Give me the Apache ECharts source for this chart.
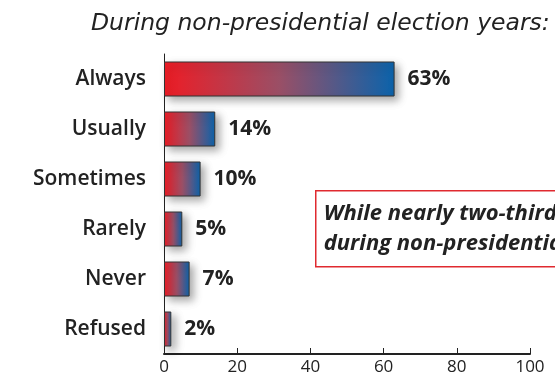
<!DOCTYPE html>
<html>
<head>
<meta charset="utf-8">
<script src="https://cdn.jsdelivr.net/npm/echarts@6/dist/echarts.min.js"></script>
<style>
html,body{margin:0;padding:0;background:#fff;}
#chart{width:555px;height:376px;}
</style>
</head>
<body>
<div id="chart"></div>
<script>
var categories = ['Always', 'Usually', 'Sometimes', 'Rarely', 'Never', 'Refused'];
var values = [63, 14, 10, 5, 7, 2];
var xTicks = [0, 20, 40, 60, 80, 100];
var titleText = 'During non-presidential election years:';
var noteLines = ['While nearly two-thirds of respondents said they always vote', 'during non-presidential election years, 14% said usually'];

var chart = echarts.init(document.getElementById('chart'), null, {renderer: 'canvas'});
var option = {
  backgroundColor: '#ffffff',
  animation: false,
  title: {
    text: titleText,
    left: 86, top: 7,
    textStyle: {fontFamily: 'DejaVu Sans', fontStyle: 'italic', fontWeight: 'normal', fontSize: 23.5, color: '#222'}
  },
  grid: {left: 164, right: 25, top: 54, bottom: 22, containLabel: false},
  xAxis: {
    type: 'value', min: xTicks[0], max: xTicks[xTicks.length - 1], interval: 20,
    splitLine: {show: false},
    axisLine: {show: true, lineStyle: {color: '#222', width: 2}},
    axisTick: {show: true, inside: true, length: 6, lineStyle: {color: '#222', width: 1}},
    axisLabel: {fontFamily: 'Open Sans', fontSize: 17, color: '#222', margin: 5}
  },
  yAxis: {
    type: 'category', data: categories, inverse: true,
    axisLine: {show: true, lineStyle: {color: '#222', width: 1}},
    axisTick: {show: false},
    axisLabel: {fontFamily: 'Open Sans', fontWeight: 600, fontSize: 21, color: '#222', margin: 18}
  },
  series: [{
    type: 'bar',
    data: values,
    barWidth: 35,
    itemStyle: {
      color: new echarts.graphic.LinearGradient(0, 0, 1, 0, [
        {offset: 0, color: '#ee1c25'},
        {offset: 0.5, color: '#9a4f66'},
        {offset: 1, color: '#0b63ab'}
      ]),
      borderColor: '#333', borderWidth: 1,
      shadowBlur: 8, shadowColor: 'rgba(0,0,0,0.35)', shadowOffsetX: 4, shadowOffsetY: 4
    },
    label: {
      show: true, position: 'right', distance: 13, formatter: '{c}%',
      fontFamily: 'Open Sans', fontWeight: 'bold', fontSize: 21, color: '#222'
    }
  }],
  graphic: [{
    type: 'group', left: 315, top: 190,
    children: [{
      type: 'rect', shape: {x: 0, y: 0, width: 320, height: 76},
      style: {fill: '#fff', stroke: '#e02a30', lineWidth: 1.5}
    }, {
      type: 'text', x: 8, y: 8,
      style: {text: noteLines.join('\n'), fontFamily: 'Open Sans', fontStyle: 'italic', fontWeight: 'bold', fontSize: 22, lineHeight: 30, fill: '#222'}
    }]
  }]
};
chart.setOption(option);
</script>
</body>
</html>
